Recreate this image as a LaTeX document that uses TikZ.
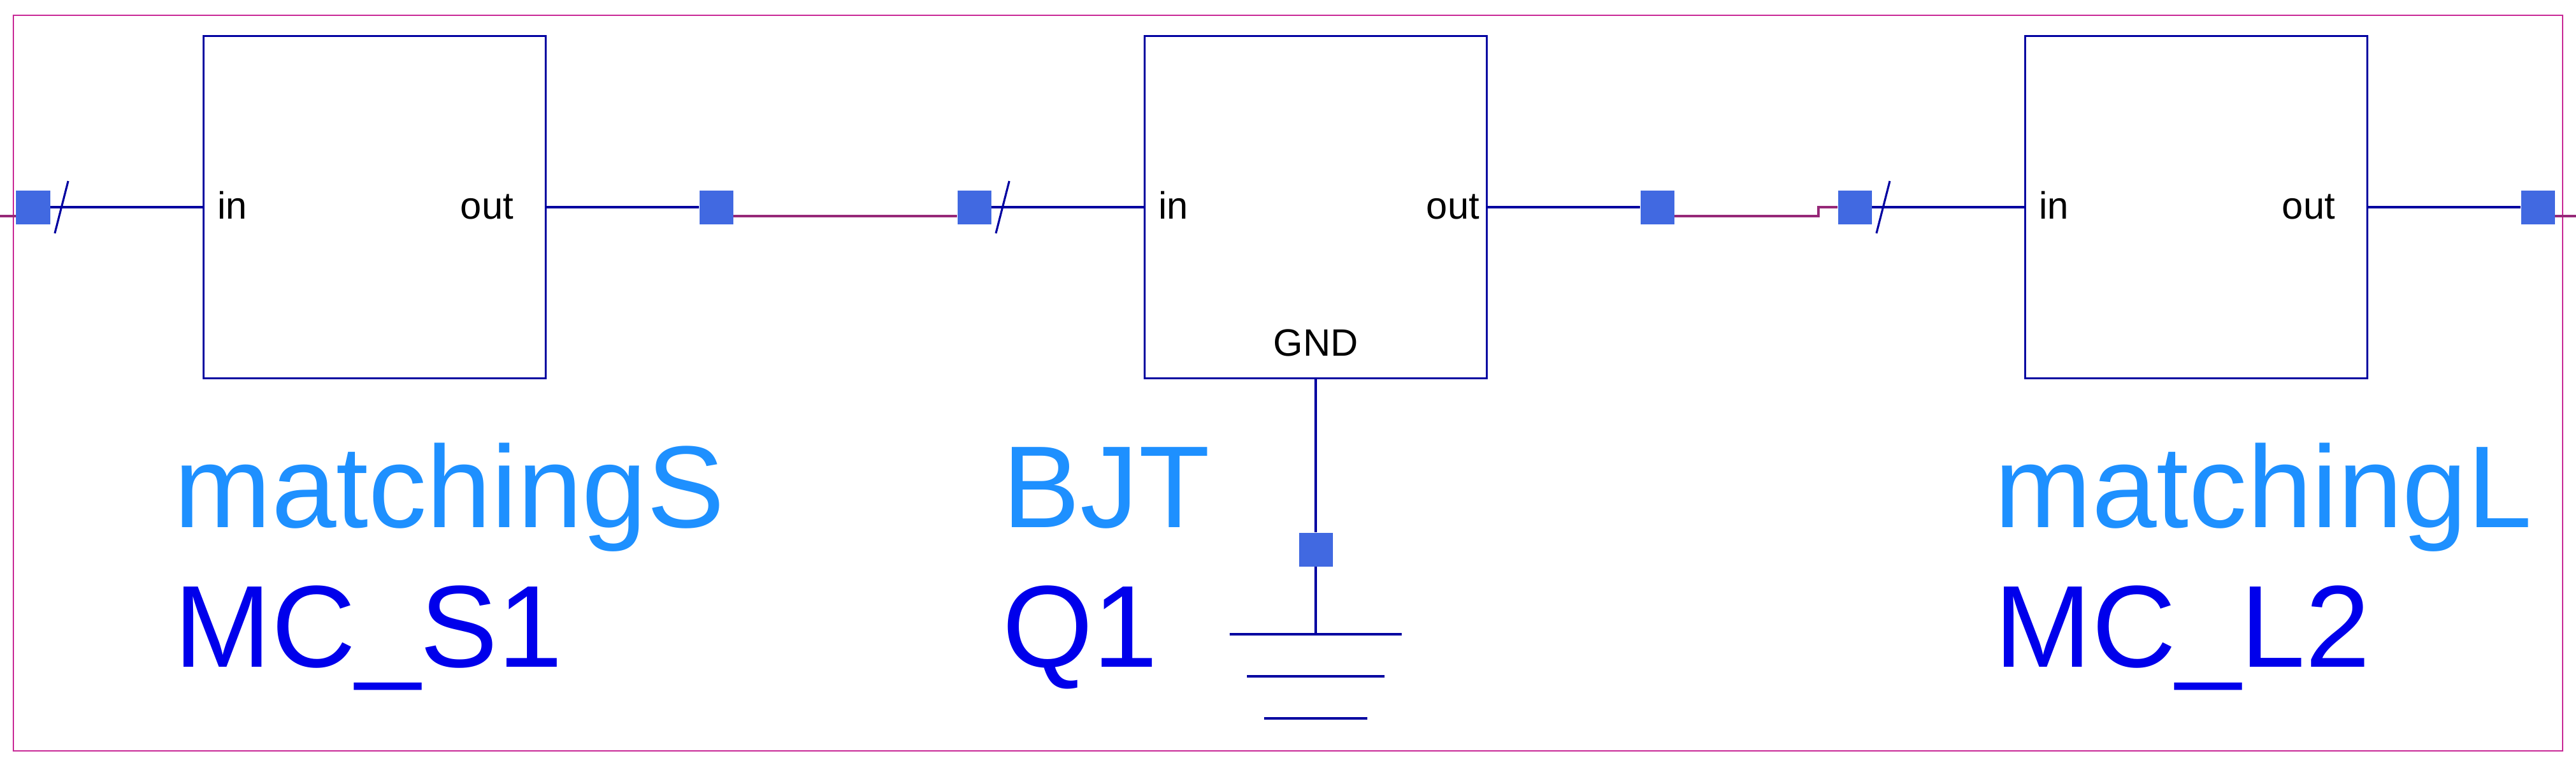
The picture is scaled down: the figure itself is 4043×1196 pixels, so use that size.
\documentclass[tikz,border=0pt]{standalone}
\usepackage{fontspec}
\setmainfont{Liberation Sans}
\usetikzlibrary{calc}
\definecolor{wireblue}{RGB}{0,0,160}
\definecolor{portblue}{RGB}{65,105,225}
\definecolor{typeblue}{RGB}{30,144,255}
\definecolor{nameblue}{RGB}{0,0,235}
\definecolor{framemag}{RGB}{200,40,150}
\definecolor{netmag}{RGB}{150,40,120}

\begin{document}
\begin{tikzpicture}[x=0.01cm,y=-0.01cm]
\useasboundingbox (0,0) rectangle (4043,1196);

\coordinate (B1_c) at (588, 325);
\coordinate (B2_c) at (2065, 325);
\coordinate (B3_c) at (3447, 325);
\coordinate (P1_c) at (52, 325);
\coordinate (P2_c) at (1124, 325);
\coordinate (P3_c) at (1529, 325);
\coordinate (P4_c) at (2601, 325);
\coordinate (P5_c) at (2911, 325);
\coordinate (P6_c) at (3983, 325);
\coordinate (PG_c) at (2065, 862);
\coordinate (G1) at (2065, 995);
\coordinate (J1) at (2854, 325);
\coordinate (E_L) at (0, 339);
\coordinate (E_R) at (4043, 339);


\tikzset{FrameStyle/.style = {draw = framemag, line width = 0.8pt} }
\tikzset{BoxStyle/.style = {
 draw = wireblue,
 line width = 0.8pt,
 minimum width = 5.36cm,
 minimum height = 5.36cm,
 inner sep = 0pt} }
\tikzset{WireStyle/.style = {draw = wireblue, line width = 0.9pt} }
\tikzset{NetStyle/.style = {draw = netmag, line width = 0.9pt} }
\tikzset{PinStyle/.style = {
 text = black,
 inner sep = 0pt,
 font = \fontsize{17pt}{20pt}\selectfont} }
\tikzset{TypeStyle/.style = {
 text = typeblue,
 inner sep = 0pt,
 anchor = base west,
 font = \fontsize{52pt}{60pt}\selectfont} }
\tikzset{NameStyle/.style = {TypeStyle, text = nameblue} }

\draw[FrameStyle] (21, 24) rectangle (4022, 1178);

\node[BoxStyle] (MC_S1) at (B1_c) {};
\node[BoxStyle] (Q1) at (B2_c) {};
\node[BoxStyle] (MC_L2) at (B3_c) {};

\node[PinStyle, anchor = base west] (MC_S1_in) at ($(MC_S1.west)+(22,18)$) {in};
\node[PinStyle, anchor = base east] (MC_S1_out) at ($(MC_S1.east)+(-51,18)$) {out};
\node[PinStyle, anchor = base west] (Q1_in) at ($(Q1.west)+(22,18)$) {in};
\node[PinStyle, anchor = base east] (Q1_out) at ($(Q1.east)+(-12,18)$) {out};
\node[PinStyle, anchor = base] (Q1_gnd) at ($(Q1.south)+(0,-36)$) {GND};
\node[PinStyle, anchor = base west] (MC_L2_in) at ($(MC_L2.west)+(22,18)$) {in};
\node[PinStyle, anchor = base east] (MC_L2_out) at ($(MC_L2.east)+(-51,18)$) {out};

\node[TypeStyle] (T1) at (273, 827) {matchingS};
\node[NameStyle] (N1) at (273, 1046) {MC\_S1};
\node[TypeStyle] (T2) at (1573, 827) {BJT};
\node[NameStyle] (N2) at (1573, 1046) {Q1};
\node[TypeStyle] (T3) at (3130, 827) {matchingL};
\node[NameStyle] (N3) at (3130, 1046) {MC\_L2};


\tikzset{PortStyle/.style = {
 shape = rectangle,
 fill = portblue,
 inner sep = 0pt,
 minimum size = 0.53cm} }

\node[PortStyle] (P1) at (P1_c) {};
\node[PortStyle] (P2) at (P2_c) {};
\node[PortStyle] (P3) at (P3_c) {};
\node[PortStyle] (P4) at (P4_c) {};
\node[PortStyle] (P5) at (P5_c) {};
\node[PortStyle] (P6) at (P6_c) {};
\node[PortStyle] (PG) at (PG_c) {};

\draw[WireStyle] (P1.east) -- (MC_S1.west);
\draw[WireStyle] (MC_S1.east) -- (P2.west);
\draw[WireStyle] (P3.east) -- (Q1.west);
\draw[WireStyle] (Q1.east) -- (P4.west);
\draw[WireStyle] (P5.east) -- (MC_L2.west);
\draw[WireStyle] (MC_L2.east) -- (P6.west);
\draw[WireStyle] (Q1.south) -- (PG.north);
\draw[WireStyle] (PG.south) -- (G1);

\foreach \p in {P1,P3,P5}
 \draw[WireStyle] ($(\p)+(34,41)$) -- ($(\p)+(55,-41)$);

\foreach \i/\w in {0/135,1/108,2/81}
 \draw[WireStyle] ($(G1)+(-\w,66*\i)$) -- ($(G1)+(\w,66*\i)$);

\draw[NetStyle] (E_L) -- (P1.west |- E_L);
\draw[NetStyle] (P2.east |- E_L) -- (P3.west |- E_L);
\draw[NetStyle] (P4.east |- E_L) -- (J1 |- E_L) -- (J1) -- (P5.west);
\draw[NetStyle] (P6.east |- E_R) -- (E_R);

\end{tikzpicture}
\end{document}
